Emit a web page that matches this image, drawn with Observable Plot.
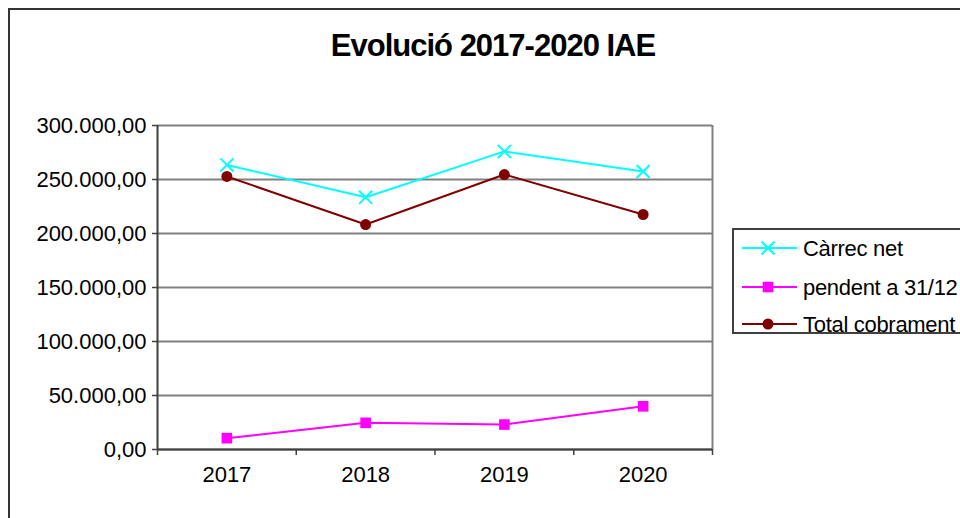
<!DOCTYPE html>
<html><head><meta charset="utf-8">
<script src="https://cdn.jsdelivr.net/npm/d3@7"></script>
<script src="https://cdn.jsdelivr.net/npm/@observablehq/plot@0.6"></script>
<style>
body{margin:0;background:#fff;}
#wrap{position:relative;width:960px;height:518px;overflow:hidden;font-family:"Liberation Sans",Arial,sans-serif;background:#fff;}
#wrap svg{position:absolute;left:0;top:0;}
#border{position:absolute;left:8px;top:8px;width:1200px;height:1200px;border-left:2px solid #333;border-top:2px solid #333;}
#title{position:absolute;left:0;width:986px;top:28px;text-align:center;font-weight:bold;font-size:31px;letter-spacing:-1px;line-height:36px;color:#000;}
</style>
</head><body>
<div id="wrap"><div id="border"></div><div id="title">Evolució 2017-2020 IAE</div></div>
<script>
const years = [2017, 2018, 2019, 2020];
const carrecNet = [263500, 233500, 276000, 257400];
const pendent = [10500, 24700, 23100, 40000];
const totalCobrament = [252800, 208300, 254600, 217600];
const seriesNames = ["Càrrec net", "pendent a 31/12", "Total cobrament"];
const seriesColors = ["#00FFFF", "#FF00FF", "#800000"];
const seriesSymbols = ["times", "square", "circle"];
const yTicks = [0, 50000, 100000, 150000, 200000, 250000, 300000];

const seriesValues = [carrecNet, pendent, totalCobrament];
const rows = [];
seriesNames.forEach((s, i) => years.forEach((y, j) => rows.push({series: s, year: y, value: seriesValues[i][j]})));
const bandEdges = years.map(y => y - 0.5).concat([years[years.length - 1] + 0.5]);

const loc = d3.formatLocale({decimal: ",", thousands: ".", grouping: [3], currency: ["", ""]});
const fmt = loc.format(",.2f");

const chart = Plot.plot({
  width: 960, height: 518,
  marginLeft: 157, marginRight: 248, marginTop: 125, marginBottom: 69,
  style: {fontFamily: "'Liberation Sans', Arial, sans-serif", fontSize: "22px", color: "#000", background: "transparent"},
  x: {type: "linear", domain: [bandEdges[0], bandEdges[bandEdges.length - 1]]},
  y: {domain: [0, 300000]},
  color: {domain: seriesNames, range: seriesColors},
  marks: [
    Plot.gridY(yTicks, {stroke: "#808080", strokeOpacity: 1, strokeWidth: 2}),
    Plot.ruleX([bandEdges[bandEdges.length - 1]], {stroke: "#808080", strokeWidth: 2}),
    Plot.axisY({ticks: yTicks, tickFormat: fmt, tickSize: 5, tickPadding: 6, label: null, stroke: "#404040", strokeWidth: 1.5, style: {letterSpacing: "-0.3px"}}),
    Plot.axisX({ticks: bandEdges, tickFormat: () => "", tickSize: 6, label: null, stroke: "#404040", strokeWidth: 1.5}),
    Plot.axisX({ticks: years, tickFormat: d => String(d), tickSize: 0, tickPadding: 17, label: null}),
    Plot.ruleX([bandEdges[0]], {stroke: "#404040", strokeWidth: 2}),
    Plot.ruleY([0], {stroke: "#404040", strokeWidth: 2}),
    Plot.line(rows, {x: "year", y: "value", z: "series", stroke: "series", strokeWidth: 2}),
    Plot.dot(rows.filter(d => d.series === seriesNames[0]), {x: "year", y: "value", symbol: "times", r: 6, stroke: seriesColors[0], strokeWidth: 2}),
    Plot.dot(rows.filter(d => d.series === seriesNames[1]), {x: "year", y: "value", symbol: "square", r: 6, fill: seriesColors[1]}),
    Plot.dot(rows.filter(d => d.series === seriesNames[2]), {x: "year", y: "value", symbol: "circle", r: 5.5, fill: seriesColors[2]})
  ]
});
document.getElementById("wrap").appendChild(chart);

// legend
const leg = d3.select("#wrap").append("svg").attr("width", 960).attr("height", 518).style("pointer-events", "none");
leg.append("rect").attr("x", 733).attr("y", 229).attr("width", 300).attr("height", 104)
  .attr("fill", "#fff").attr("stroke", "#404040").attr("stroke-width", 2);
const symMap = {times: d3.symbolTimes, square: d3.symbolSquare, circle: d3.symbolCircle};
const rowY = [248, 287, 324];
seriesNames.forEach((s, i) => {
  const g = leg.append("g").attr("transform", `translate(0,${rowY[i]})`);
  g.append("line").attr("x1", 742).attr("x2", 797).attr("y1", 0).attr("y2", 0).attr("stroke", seriesColors[i]).attr("stroke-width", 2);
  const r = i === 2 ? 5.5 : 6;
  const p = g.append("path").attr("transform", "translate(768,0)").attr("d", d3.symbol(symMap[seriesSymbols[i]], Math.PI * r * r)());
  if (seriesSymbols[i] === "times") p.attr("fill", "none").attr("stroke", seriesColors[i]).attr("stroke-width", 2);
  else p.attr("fill", seriesColors[i]);
  g.append("text").attr("x", 803).attr("y", 0).attr("dy", "0.35em").attr("font-size", 22).attr("letter-spacing", "-0.3px")
    .attr("font-family", "'Liberation Sans', Arial, sans-serif").attr("fill", "#000").text(s);
});
</script>
</body></html>
